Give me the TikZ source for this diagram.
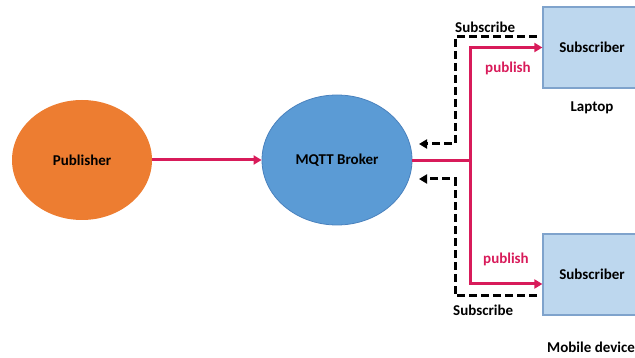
\documentclass[tikz,border=0pt]{standalone}
\usepackage{fontspec}
\setmainfont{Carlito}
\usetikzlibrary{shapes.geometric,arrows.meta}
\definecolor{pubfill}{HTML}{ED7D31}
\definecolor{brkfill}{HTML}{5B9BD5}
\definecolor{brkline}{HTML}{4A82BE}
\definecolor{subfill}{HTML}{BDD7EE}
\definecolor{subline}{HTML}{7FA3CC}
\definecolor{publine}{HTML}{D81B5A}
\tikzset{
  actor/.style={ellipse, minimum width=#1, font=\bfseries\fontsize{15}{18}\selectfont},
  subbox/.style={rectangle, draw=subline, line width=1.2pt, fill=subfill,
    minimum width=98pt, minimum height=81pt, font=\bfseries\fontsize{15}{18}\selectfont},
  lbl/.style={font=\bfseries\fontsize{15}{18}\selectfont, inner sep=0pt},
  publine/.style={draw=publine, line width=3pt},
  pubarrow/.style={publine, -{Triangle[length=8pt,width=9pt]}},
  subarrow/.style={draw=black, line width=3pt, dash pattern=on 8pt off 4pt,
    -{Triangle[length=8pt,width=9pt]}},
}
\begin{document}
\begin{tikzpicture}[x=1pt, y=-1pt]
\useasboundingbox (0,0) rectangle (635,358);

% participants
\node[actor=140pt, fill=pubfill, minimum height=120pt] (pub) at (82,160) {Publisher};
\node[actor=150pt, fill=brkfill, draw=brkline, line width=0.8pt, minimum height=130pt]
  (brk) at (337,160) {MQTT Broker};
\node[subbox] (sub1) at (592,47.5) {Subscriber};
\node[subbox] (sub2) at (592,274.5) {Subscriber};

% routing points
\coordinate (jn) at (470,161);
\coordinate (pbot) at (470,284);
\coordinate (s1a) at (537,37);
\coordinate (s1b) at (455,37);
\coordinate (s1c) at (455,144);
\coordinate (s1d) at (419,144);
\coordinate (s2a) at (537,296);
\coordinate (s2b) at (455,296);
\coordinate (s2c) at (455,179);
\coordinate (s2d) at (419,179);

% publish flow
\draw[pubarrow] (pub.east) -- (brk.west);
\draw[publine] (brk.east |- jn) -- (jn);
\draw[pubarrow] (jn) |- (sub1.west);
\draw[pubarrow] (jn) -- (pbot) -- (sub2.west |- pbot);

% subscribe flow
\draw[subarrow] (s1a) -- (s1b) -- (s1c) -- (s1d);
\draw[subarrow] (s2a) -- (s2b) -- (s2c) -- (s2d);

% labels
\node[lbl, anchor=west] (tsub1) at (455,27) {Subscribe};
\node[lbl, anchor=west, text=publine] (tpub1) at (485,68) {publish};
\node[lbl] (tlap) at (592,108) {Laptop};
\node[lbl, anchor=west, text=publine] (tpub2) at (483,259) {publish};
\node[lbl, anchor=west] (tsub2) at (453,310) {Subscribe};
\node[lbl, anchor=west] (tmob) at (547,347) {Mobile device};
\end{tikzpicture}
\end{document}
